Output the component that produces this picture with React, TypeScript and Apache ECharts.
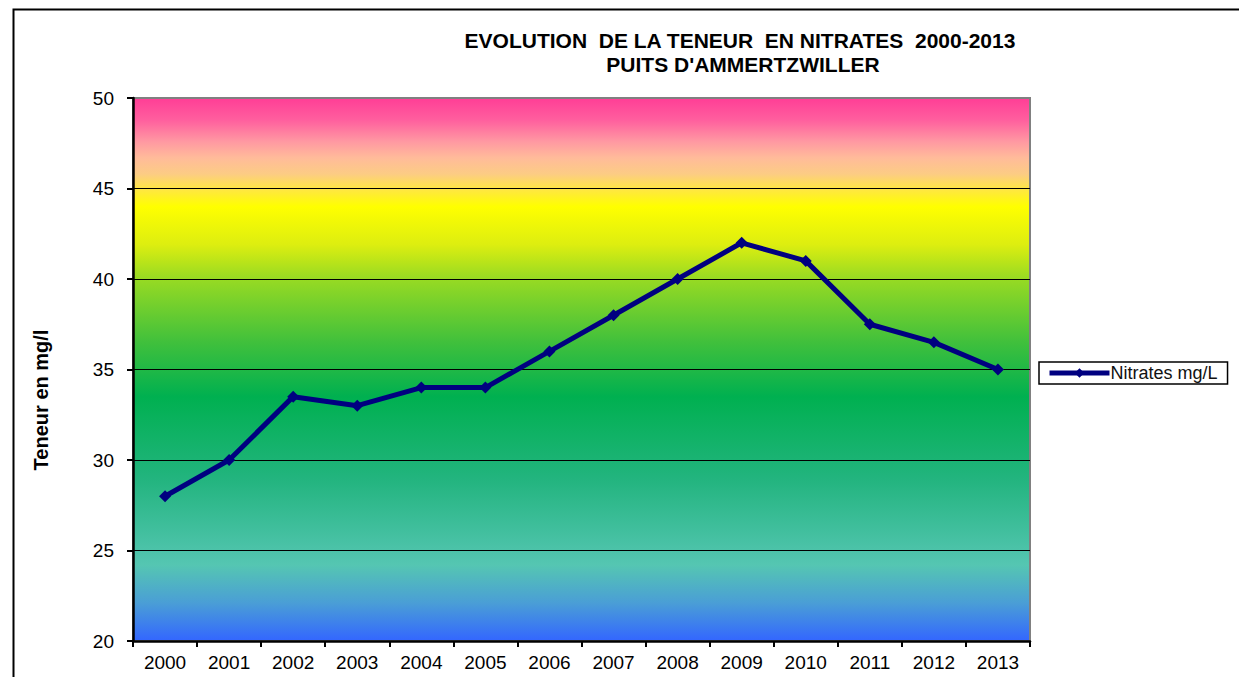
import React, { useEffect, useRef } from "react";
import * as echarts from "echarts";

const years = ["2000", "2001", "2002", "2003", "2004", "2005", "2006", "2007", "2008", "2009", "2010", "2011", "2012", "2013"];
const nitrates = [28, 30, 33.5, 33, 34, 34, 36, 38, 40, 42, 41, 37.5, 36.5, 35];
const seriesName = "Nitrates mg/L";
const titleLines = ["EVOLUTION  DE LA TENEUR  EN NITRATES  2000-2013", "PUITS D'AMMERTZWILLER"];
const yTitle = "Teneur en mg/l";

const FONT = "'Liberation Sans', Arial, sans-serif";

export default function App() {
  const ref = useRef<HTMLDivElement>(null);
  useEffect(() => {
    const chart = echarts.init(ref.current!, null, { renderer: "svg" });
    const bg = new echarts.graphic.LinearGradient(0, 0, 0, 1, [
      { offset: 0, color: "#FF3E96" },
      { offset: 0.04, color: "#FF5E9E" },
      { offset: 0.08, color: "#FF98A2" },
      { offset: 0.11, color: "#FFBB9A" },
      { offset: 0.14, color: "#FCCC84" },
      { offset: 0.165, color: "#FFE44A" },
      { offset: 0.2, color: "#FFFF00" },
      { offset: 0.27, color: "#DDEE10" },
      { offset: 0.33, color: "#9ADB22" },
      { offset: 0.45, color: "#40C03C" },
      { offset: 0.55, color: "#00B050" },
      { offset: 0.7, color: "#22B47E" },
      { offset: 0.86, color: "#55C6B2" },
      { offset: 0.93, color: "#4A9ED6" },
      { offset: 1, color: "#3366FF" },
    ]);
    chart.setOption({
      animation: false,
      backgroundColor: "#ffffff",
      textStyle: { fontFamily: FONT },
      grid: {
        left: 133,
        top: 98,
        right: 209,
        bottom: 36,
        show: true,
        backgroundColor: bg,
        borderColor: "#808080",
        borderWidth: 2,
        containLabel: false,
      },
      graphic: [
        {
          type: "rect",
          left: 11,
          top: 7,
          shape: { width: 1300, height: 720 },
          style: { fill: "none", stroke: "#000", lineWidth: 2 },
          silent: true,
        },
        {
          type: "text",
          x: 740,
          y: 40,
          style: {
            text: titleLines[0],
            font: `bold 21px ${FONT}`,
            fill: "#000",
            align: "center",
            verticalAlign: "middle",
          },
        },
        {
          type: "text",
          x: 743,
          y: 64,
          style: {
            text: titleLines[1],
            font: `bold 21px ${FONT}`,
            fill: "#000",
            align: "center",
            verticalAlign: "middle",
          },
        },
        {
          type: "text",
          x: 41,
          y: 400,
          rotation: Math.PI / 2,
          style: {
            text: yTitle,
            font: `bold 20px ${FONT}`,
            fill: "#000",
            align: "center",
            verticalAlign: "middle",
          },
        },
      ],
      legend: {
        left: 1039,
        top: 362,
        padding: [2, 10, 2, 8],
        borderColor: "#000",
        borderWidth: 1.5,
        backgroundColor: "#fff",
        itemWidth: 60,
        itemHeight: 12,
        itemGap: 0,
        lineStyle: { width: 5, color: "#000080" },
        textStyle: { fontSize: 18, color: "#111", fontFamily: FONT, padding: [0, 0, 0, -4] },
        data: [seriesName],
      },
      xAxis: {
        type: "category",
        data: years,
        boundaryGap: true,
        axisLine: { lineStyle: { color: "#000", width: 2.5 } },
        axisTick: { show: true, alignWithLabel: false, length: 6, lineStyle: { color: "#000", width: 2 } },
        axisLabel: { fontSize: 19, color: "#000", margin: 12, fontFamily: FONT },
        splitLine: { show: false },
      },
      yAxis: {
        type: "value",
        min: 20,
        max: 50,
        interval: 5,
        axisLine: { show: true, lineStyle: { color: "#000", width: 2.5 } },
        axisTick: { show: true, length: 6, lineStyle: { color: "#000", width: 2 } },
        axisLabel: { fontSize: 19, color: "#000", margin: 19, fontFamily: FONT },
        splitLine: {
          show: true,
          lineStyle: { color: ["#000", "#000", "#000", "#000", "#000", "#000", "#808080"], width: 1 },
        },
      },
      series: [
        {
          name: seriesName,
          type: "line",
          data: nitrates,
          symbol: "diamond",
          symbolSize: 12,
          color: "#000080",
          lineStyle: { color: "#000080", width: 5 },
          itemStyle: { color: "#000080" },
        },
      ],
    });
    return () => chart.dispose();
  }, []);
  return <div ref={ref} style={{ position: "fixed", left: 0, top: 0, width: 1239, height: 677 }} />;
}
